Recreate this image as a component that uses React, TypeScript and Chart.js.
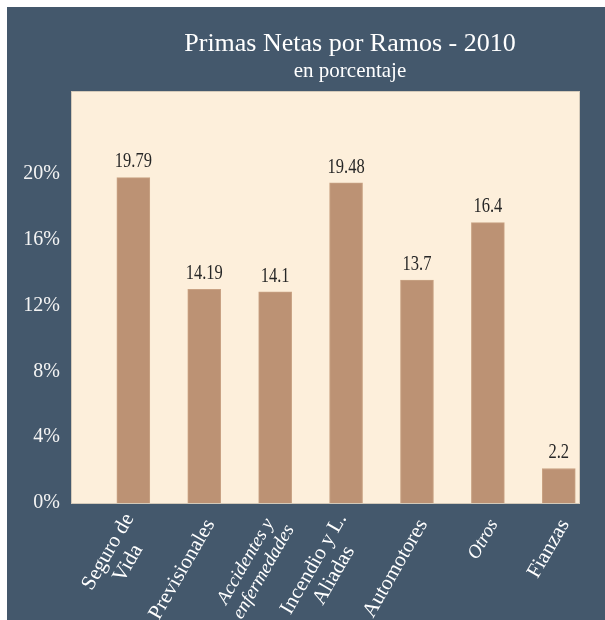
import React, { useEffect, useRef } from "react";
import { Chart, registerables } from "chart.js";

Chart.register(...registerables);

// ---- data ----
const categories: string[][] = [
  ["Seguro de", "Vida"],
  ["Previsionales"],
  ["Accidentes y", "enfermedades"],
  ["Incendio y L.", "Aliadas"],
  ["Automotores"],
  ["Otros"],
  ["Fianzas"],
];
// bar heights as drawn in the picture (percent)
const barValues = [19.79, 13.0, 12.85, 19.48, 13.56, 17.05, 2.1];
// value labels printed above the bars
const valueLabels = ["19.79", "14.19", "14.1", "19.48", "13.7", "16.4", "2.2"];
const yTickValues = [0, 4, 8, 12, 16, 20];
const titleText = "Primas Netas por Ramos - 2010";
const subtitleText = "en porcentaje";

// ---- style ----
const FONT = "'Liberation Serif', 'Times New Roman', serif";
const BG = "#44586c";
const PLOT_BG = "#fdefdb";
const BAR = "#bc9274";
const ITALIC_TICKS = new Set([2, 5]);

const backgroundPlugin = {
  id: "bgPlot",
  beforeDraw(chart: any) {
    const { ctx, chartArea: a, width, height } = chart;
    ctx.save();
    ctx.fillStyle = BG;
    ctx.fillRect(0, 0, width, height);
    ctx.fillStyle = PLOT_BG;
    ctx.fillRect(a.left, a.top, a.right - a.left, a.bottom - a.top);
    ctx.strokeStyle = "#d3c9b9";
    ctx.lineWidth = 1;
    ctx.strokeRect(a.left - 0.5, a.top - 0.5, a.right - a.left + 1, a.bottom - a.top + 1);
    ctx.restore();
  },
};

const textPlugin = {
  id: "texts",
  afterDraw(chart: any) {
    const { ctx, chartArea: a } = chart;
    ctx.save();
    // title + subtitle
    ctx.fillStyle = "#ffffff";
    ctx.textAlign = "center";
    ctx.textBaseline = "alphabetic";
    ctx.font = `26px ${FONT}`;
    ctx.fillText(titleText, 343, 44);
    ctx.font = `21px ${FONT}`;
    ctx.fillText(subtitleText, 343, 70);

    // value labels
    const meta = chart.getDatasetMeta(0);
    ctx.fillStyle = "#262626";
    ctx.font = `22px ${FONT}`;
    ctx.textBaseline = "bottom";
    meta.data.forEach((el: any, i: number) => {
      ctx.save();
      ctx.translate(el.x, el.y - 5);
      ctx.scale(0.75, 1);
      ctx.fillText(valueLabels[i], 0, 0);
      ctx.restore();
    });

    // category labels (rotated)
    const xs = chart.scales.x;
    ctx.fillStyle = "#ffffff";
    ctx.textAlign = "center";
    ctx.textBaseline = "middle";
    categories.forEach((lines, i) => {
      const italic = ITALIC_TICKS.has(i);
      const size = italic ? 19 : 21;
      ctx.font = `${italic ? "italic " : ""}${size}px ${FONT}`;
      const lh = size * 1.1;
      const W = Math.max(...lines.map((l) => ctx.measureText(l).width));
      ctx.save();
      ctx.translate(xs.getPixelForValue(i) + 6, a.bottom + 18);
      ctx.rotate(-Math.PI / 3);
      lines.forEach((l, k) => {
        ctx.fillText(l, -W / 2, (k - (lines.length - 1) / 2) * lh);
      });
      ctx.restore();
    });
    ctx.restore();
  },
};

export default function App() {
  const ref = useRef<HTMLCanvasElement | null>(null);
  useEffect(() => {
    if (!ref.current) return;
    const chart = new Chart(ref.current, {
      type: "bar",
      data: {
        datasets: [
          {
            data: barValues.map((v, i) => ({ x: i, y: v })),
            backgroundColor: BAR,
            borderColor: "#c9a384",
            borderWidth: 1,
            barThickness: 33,
          },
        ],
      },
      options: {
        responsive: false,
        animation: false,
        layout: { padding: { top: 85, right: 33, bottom: 117, left: 0 } },
        plugins: {
          legend: { display: false },
          tooltip: { enabled: false },
          title: { display: false },
        },
        scales: {
          x: {
            type: "linear",
            offset: false,
            min: -0.865,
            max: 6.285,
            grid: { display: false, drawTicks: false },
            border: { display: false },
            ticks: { display: false },
            afterFit: (s: any) => {
              s.height = 0;
            },
          },
          y: {
            min: 0,
            max: 25,
            grid: { display: false, drawTicks: false },
            border: { display: false },
            afterBuildTicks: (s: any) => {
              s.ticks = yTickValues.map((v) => ({ value: v }));
            },
            ticks: {
              color: "#f4f4f4",
              font: { family: FONT, size: 20 },
              padding: 12,
              callback: (v: any) => `${v}%`,
            },
            afterFit: (s: any) => {
              s.width = 65;
            },
          },
        },
      },
      plugins: [backgroundPlugin, textPlugin],
    } as any);
    return () => chart.destroy();
  }, []);
  return (
    <div style={{ position: "fixed", left: 7, top: 7, width: 605, height: 613 }}>
      <canvas ref={ref} width={605} height={613} style={{ display: "block" }} />
    </div>
  );
}
